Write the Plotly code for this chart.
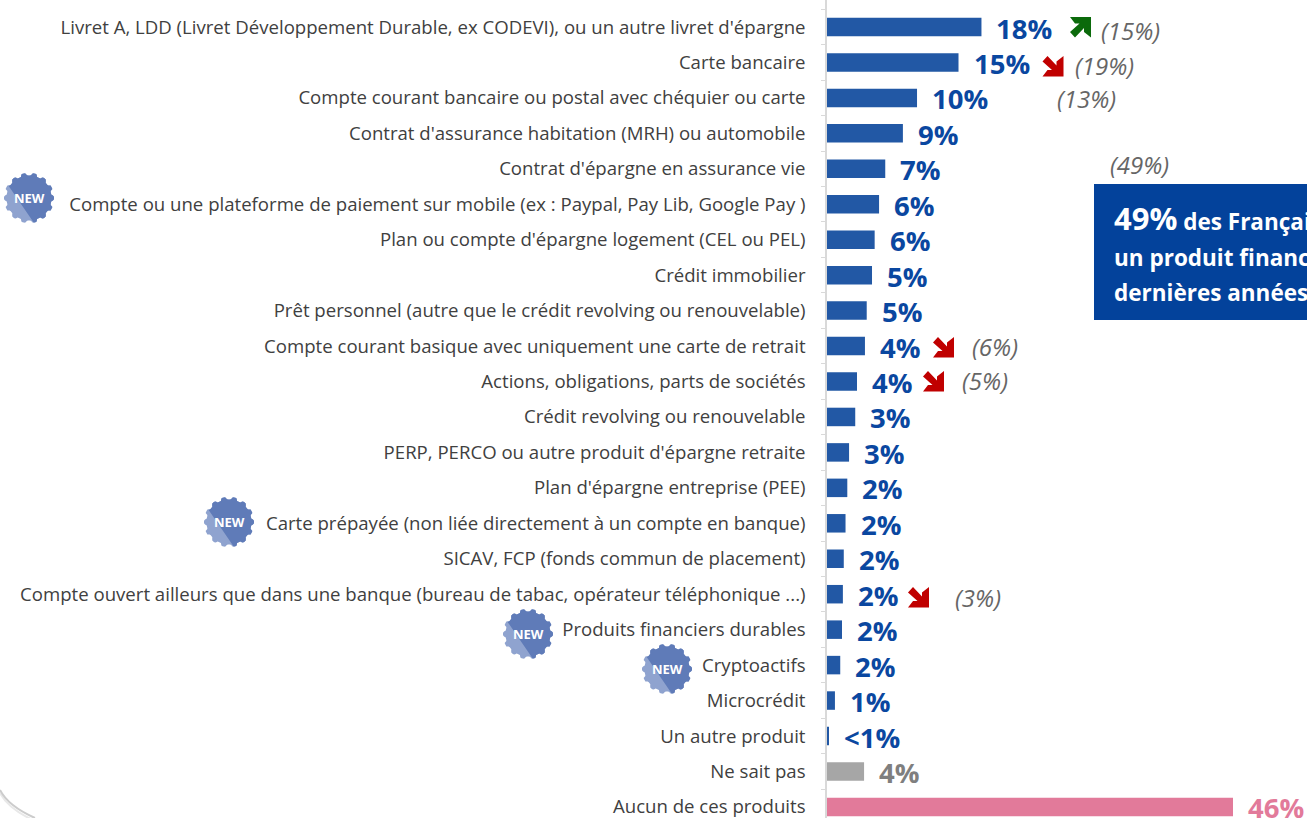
import math
import plotly.graph_objects as go

categories = ["Livret A, LDD (Livret Développement Durable, ex CODEVI), ou un autre livret d'épargne",
 "Carte bancaire", "Compte courant bancaire ou postal avec chéquier ou carte",
 "Contrat d'assurance habitation (MRH) ou automobile", "Contrat d'épargne en assurance vie",
 "Compte ou une plateforme de paiement sur mobile (ex : Paypal, Pay Lib, Google Pay )",
 "Plan ou compte d'épargne logement (CEL ou PEL)", "Crédit immobilier",
 "Prêt personnel (autre que le crédit revolving ou renouvelable)",
 "Compte courant basique avec uniquement une carte de retrait",
 "Actions, obligations, parts de sociétés", "Crédit revolving ou renouvelable",
 "PERP, PERCO ou autre produit d'épargne retraite", "Plan d'épargne entreprise (PEE)",
 "Carte prépayée (non liée directement à un compte en banque)",
 "SICAV, FCP (fonds commun de placement)",
 "Compte ouvert ailleurs que dans une banque (bureau de tabac, opérateur téléphonique ...)",
 "Produits financiers durables", "Cryptoactifs", "Microcrédit", "Un autre produit", "Ne sait pas",
 "Aucun de ces produits"]
values = [17.5, 14.9, 10.2, 8.6, 6.6, 5.9, 5.4, 5.1, 4.5, 4.3, 3.4, 3.2, 2.5, 2.3, 2.1, 1.9, 1.8, 1.7, 1.5, 0.9, 0.2, 4.2, 46]
labels = ["18%", "15%", "10%", "9%", "7%", "6%", "6%", "5%", "5%", "4%", "4%", "3%", "3%", "2%", "2%", "2%", "2%", "2%", "2%", "1%", "<1%", "4%", "46%"]
previous_labels = ["(15%)", "(19%)", "(13%)", "(49%)", "(6%)", "(5%)", "(3%)"]

W, H = 1307, 818
X0 = 827
PX_PER_UNIT = 406 / 46
ROW0, ROW = 27, 35.45
BLUE, GREY, PINK = "#2258a5", "#a6a6a6", "#e27a9a"
bar_colors = [BLUE] * 21 + [GREY, PINK]
label_colors = ["#0a47a0"] * 21 + ["#7f7f7f", PINK]
FONT = "Open Sans, Noto Sans, sans-serif"

px = lambda x: x / W
py = lambda y: 1 - y / H

fig = go.Figure(go.Bar(y=categories, x=values, orientation="h", marker=dict(color=bar_colors, line_width=0), hoverinfo="skip"))

annotations = []
shapes = []

def txt(x, y, text, size, color, anchor="left", bold=False, italic=False):
    t = text
    if bold: t = f"<b>{t}</b>"
    if italic: t = f"<i>{t}</i>"
    annotations.append(dict(x=px(x), y=py(y), xref="paper", yref="paper", text=t, showarrow=False,
                            xanchor=anchor, yanchor="middle", font=dict(family=FONT, size=size, color=color),
                            align="left"))

for c, v, lab, col in zip(categories, values, labels, label_colors):
    annotations.append(dict(x=v, y=c, xref="x", yref="y", text=f"<b>{lab}</b>", showarrow=False, xanchor="left",
                            xshift=13, yshift=-1, font=dict(family=FONT, size=27.5, color=col)))

prev_pos = [(1099, 30), (1073, 66), (1055, 99), (1108, 164), (970, 347), (960, 381), (953, 597)]
for (x, y), t in zip(prev_pos, previous_labels):
    txt(x, y, t, 24, "#666666", italic=True)

def path(pts):
    return "M " + " L ".join(f"{px(x):.5f},{py(y):.5f}" for x, y in pts) + " Z"

ARROW = [(21, 20.5), (21, 0), (14, 5.5), (14, 9.5), (5, 0), (0, 5.5), (9.5, 14), (5, 14), (0, 20.5)]
def arrow(x, y, up=False):
    if up:
        pts = [(x + a, y + 20.5 - b) for a, b in ARROW]
        col = "#0b6a0b"
    else:
        pts = [(x + a, y + b) for a, b in ARROW]
        col = "#c00000"
    shapes.append(dict(type="path", path=path(pts), xref="paper", yref="paper", fillcolor=col, line_width=0, layer="above"))

arrow(1070, 17, up=True)
arrow(1042.5, 56)
arrow(933, 337)
arrow(923, 371)
arrow(908, 587)

def clip(poly, nx, ny, d):
    out = []
    for i in range(len(poly)):
        a, b = poly[i], poly[(i + 1) % len(poly)]
        da = a[0] * nx + a[1] * ny - d
        db = b[0] * nx + b[1] * ny - d
        if da >= 0: out.append(a)
        if (da >= 0) != (db >= 0):
            t = da / (da - db)
            out.append((a[0] + t * (b[0] - a[0]), a[1] + t * (b[1] - a[1])))
    return out

def badge(cx, cy, r=25):
    pts = []
    for i in range(120):
        ang = 2 * math.pi * i / 120
        rad = r * (0.95 + 0.05 * max(-1, min(1, 2.5 * math.cos(14 * ang))))
        pts.append((cx + rad * math.cos(ang), cy + rad * math.sin(ang)))
    shapes.append(dict(type="path", path=path(pts), xref="paper", yref="paper", fillcolor="#8fa3cf", line_width=0))
    nx, ny = 0.825, -0.565
    d = cx * nx + cy * ny - 10
    shapes.append(dict(type="path", path=path(clip(pts, nx, ny, d)), xref="paper", yref="paper", fillcolor="#5f7bb8", line_width=0))
    txt(cx, cy, "<b>NEW</b>", 13, "white", anchor="center")

for cx, cy in [(29, 198), (229, 522), (528, 634), (667, 669)]:
    badge(cx, cy)

# callout box
shapes.append(dict(type="rect", x0=px(1094), x1=px(1320), y0=py(184), y1=py(320), xref="paper", yref="paper", fillcolor="#03429b", line_width=0))
annotations.append(dict(x=px(1112), y=py(218), xref="paper", yref="paper", showarrow=False, xanchor="left", yanchor="middle",
                        text="<b><span style='font-size:31px'>49%</span> des Français</b>", font=dict(family=FONT, size=22.5, color="white")))
txt(1112, 257, "<b>un produit financier</b>", 22.5, "white")
txt(1112, 292, "<b>dernières années</b>", 22.5, "white")

# slide corner
for col, dx in [("#e8e8e8", 3), ("#cccccc", 0)]:
    shapes.append(dict(type="path", xref="paper", yref="paper", line=dict(color=col, width=2),
                       path=f"M {px(0)},{py(790+dx)} Q {px(8)},{py(806+dx)} {px(35)},{py(818+dx)}"))

fig.update_layout(
    width=W, height=H, margin=dict(l=0, r=0, t=0, b=0), paper_bgcolor="white", plot_bgcolor="white",
    bargap=0.478, showlegend=False, annotations=annotations, shapes=shapes,
    xaxis=dict(domain=[X0 / W, 1], range=[0, (W - X0) / PX_PER_UNIT], visible=False),
    yaxis=dict(range=[(H - ROW0) / ROW, -ROW0 / ROW], type="category", categoryorder="array", categoryarray=categories,
               showgrid=False, zeroline=False, showline=True, linecolor="#d9d9d9", linewidth=1.5,
               ticks="outside", ticklen=4, tickcolor="#d9d9d9", tickson="boundaries", ticklabelstandoff=16,
               tickfont=dict(family=FONT, size=18.6, color="#404040")),
)
fig.write_html("out.html", config=dict(displayModeBar=False),
               post_script="document.body.style.margin='0';document.body.style.overflow='hidden';")
